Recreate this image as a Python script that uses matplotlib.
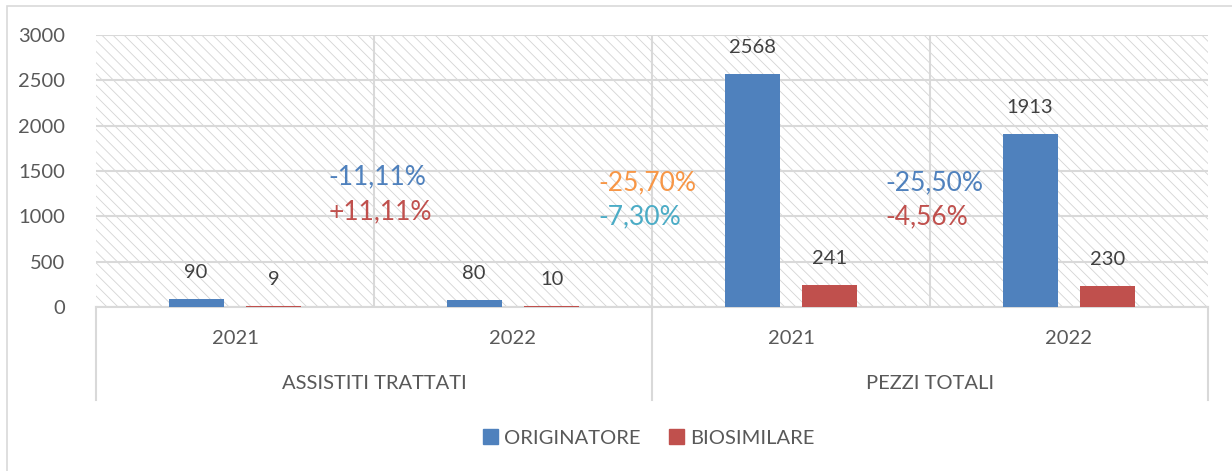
import matplotlib.pyplot as plt
import matplotlib.transforms as mtransforms
from matplotlib.patches import Rectangle, Patch

plt.rcParams['font.family'] = ['Lato', 'DejaVu Sans']
plt.rcParams['hatch.linewidth'] = 0.6

# --- data ---
years = ['2021', '2022', '2021', '2022']
groups = ['ASSISTITI TRATTATI', 'PEZZI TOTALI']
originatore = [90, 80, 2568, 1913]
biosimilare = [9, 10, 241, 230]
# variation notes: (text, colour key, x anchor in categories, y value)
notes = [
    ('-11,11%', 'blue', 0.835, 1434),
    ('+11,11%', 'red', 0.835, 1048),
    ('-25,70%', 'orange', 1.806, 1368),
    ('-7,30%', 'cyan', 1.806, 993),
    ('-25,50%', 'blue', 2.838, 1368),
    ('-4,56%', 'red', 2.838, 993),
]

BLUE = '#4F81BD'
RED = '#C0504D'
note_colors = {'blue': '#4F81BD', 'red': '#C0504D', 'orange': '#F79646', 'cyan': '#4BACC6'}
GRID = '#D9D9D9'
TXT = '#595959'

fig = plt.figure(figsize=(12.32, 4.71), dpi=100)
ax = fig.add_axes([96 / 1232, 1 - 307 / 471, (1208 - 96) / 1232, 272 / 471])

# hatched plot area background
ax.add_patch(Rectangle((0, 0), 1, 1, transform=ax.transAxes, facecolor='white',
                       edgecolor='#D4D4D4', hatch='\\\\\\', linewidth=0, zorder=0))

x = [i + 0.5 for i in range(len(years))]
off = 0.14
w = 0.198
ax.bar([v - off for v in x], originatore, width=w, color=BLUE, zorder=3)
ax.bar([v + off for v in x], biosimilare, width=w, color=RED, zorder=3)

for xi, o, b in zip(x, originatore, biosimilare):
    ax.annotate(str(o), (xi - off, o), xytext=(0, 19), textcoords='offset points',
                ha='center', va='center', fontsize=14.5, color='#404040', zorder=4)
    ax.annotate(str(b), (xi + off, b), xytext=(0, 19), textcoords='offset points',
                ha='center', va='center', fontsize=14.5, color='#404040', zorder=4)

for txt, c, xn, yn in notes:
    ax.text(xn, yn, txt, color=note_colors[c], fontsize=19, ha='left', va='center', zorder=4)

ax.set_xlim(0, 4)
ax.set_ylim(0, 3000)
ax.set_yticks(range(0, 3001, 500))
ax.tick_params(axis='y', length=0, pad=22, labelsize=14.5, labelcolor=TXT)
ax.set_xticks([])
ax.grid(axis='y', color=GRID, linewidth=1.5, zorder=1)
for xv in [1, 2, 3]:
    ax.axvline(xv, color=GRID, linewidth=1.5, zorder=1)
for s in ['top', 'right', 'left']:
    ax.spines[s].set_visible(False)
ax.spines['bottom'].set_color(GRID)
ax.spines['bottom'].set_linewidth(1.5)

# multi-level category axis
trans = mtransforms.blended_transform_factory(ax.transData, ax.transAxes)
for xi, yr in zip(x, years):
    ax.text(xi, -0.114, yr, transform=trans, ha='center', va='center', fontsize=14.5, color=TXT)
for gi, g in enumerate(groups):
    ax.text(1 + 2 * gi, -0.283, g, transform=trans, ha='center', va='center', fontsize=14.5, color=TXT)
for xv in [0, 2, 4]:
    ax.plot([xv, xv], [0, -0.342], transform=trans, color=GRID, linewidth=1.5, clip_on=False)

# outer chart border
fig.add_artist(Rectangle((7 / 1232, -0.1), 1.2, 1 - 6 / 471 + 0.1, transform=fig.transFigure,
                         fill=False, edgecolor='#D9D9D9', linewidth=1.2))

handles = [Patch(color=BLUE, label='ORIGINATORE'), Patch(color=RED, label='BIOSIMILARE')]
fig.legend(handles=handles, loc='center', bbox_to_anchor=(649 / 1232, 1 - 438 / 471), ncol=2,
           frameon=False, fontsize=14.5, labelcolor=TXT, handlelength=0.75, handleheight=0.75,
           handletextpad=0.3, columnspacing=1.4)

fig.savefig('out.png', dpi=100)
